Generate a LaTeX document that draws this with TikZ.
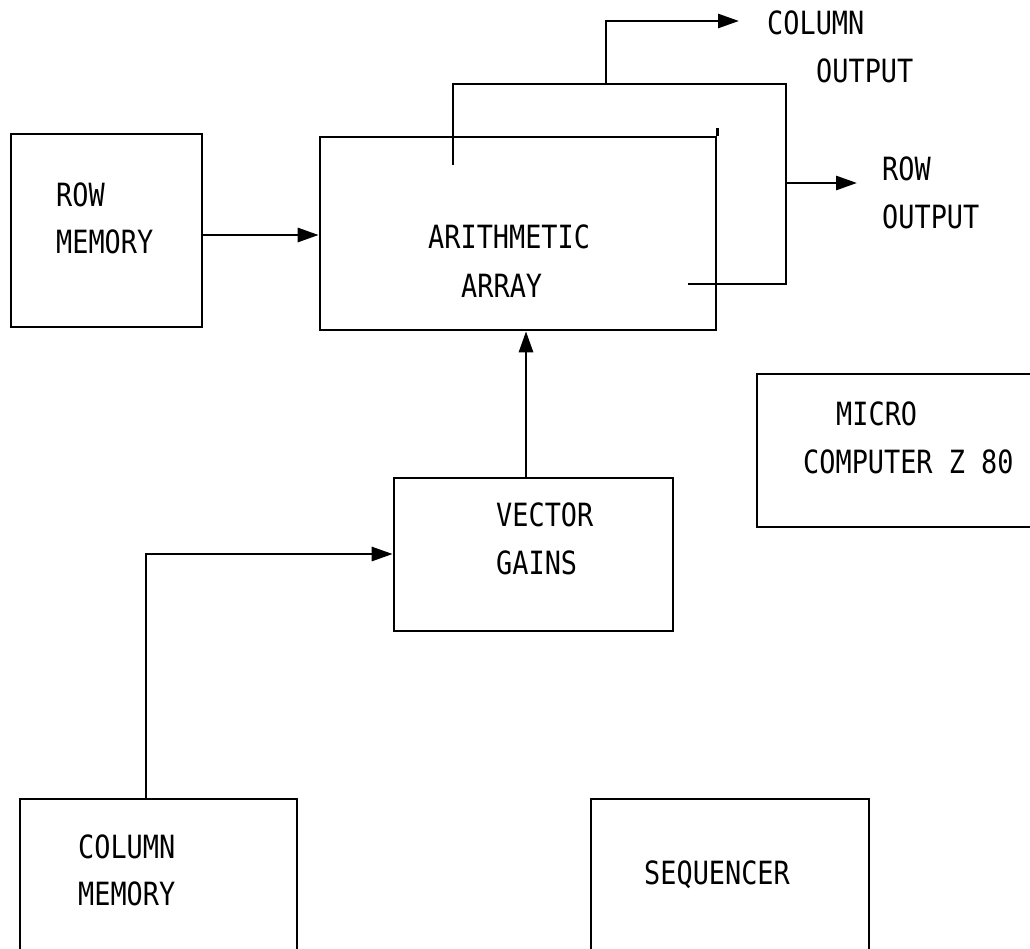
\documentclass[tikz,border=0pt]{standalone}
\usepackage{fontspec}
\setmonofont{DejaVu Sans Mono}[FakeStretch=0.84]
\usetikzlibrary{arrows.meta}
\tikzset{
  blk/.style={draw, line width=2.6pt, inner sep=0pt},
  lbl/.style={anchor=west, inner sep=0pt, font=\ttfamily\fontsize{32}{34}\selectfont, text height=23pt, text depth=0pt},
  wire/.style={line width=2.8pt},
  arr/.style={wire, -{Triangle[length=21pt,width=14pt]}},
}
\begin{document}
\begin{tikzpicture}[x=1pt,y=-1pt]
\clip (0,0) rectangle (1030,949);
\fill[white] (0,0) rectangle (1030,949);
% blocks
\node[blk, minimum width=191pt, minimum height=193pt] (rowmem) at (106.5,230.5) {};
\node[blk, minimum width=396pt, minimum height=193pt] (arith) at (518,233.5) {};
\node[blk, minimum width=290pt, minimum height=153pt] (micro) at (902,450.5) {};
\node[blk, minimum width=279pt, minimum height=153pt] (vec) at (533.5,554.5) {};
\node[blk, minimum width=277pt, minimum height=162pt] (colmem) at (158.5,880) {};
\node[blk, minimum width=278pt, minimum height=162pt] (seq) at (730,880) {};
\draw[line width=2.6pt] (arith.north east) -- ++(0,-8);
% labels
\node[lbl] (t1) at (56,195) {ROW};
\node[lbl] (t2) at (56,242) {MEMORY};
\node[lbl] (t3) at (428,237) {ARITHMETIC};
\node[lbl] (t4) at (461,286) {ARRAY};
\node[lbl] (t5) at (767,23) {COLUMN};
\node[lbl] (t6) at (816,71) {OUTPUT};
\node[lbl] (t7) at (882,169) {ROW};
\node[lbl] (t8) at (882,217) {OUTPUT};
\node[lbl] (t9) at (836,414) {MICRO};
\node[lbl] (t10) at (803,462) {COMPUTER Z 80};
\node[lbl] (t11) at (496,515) {VECTOR};
\node[lbl] (t12) at (496,563) {GAINS};
\node[lbl] (t13) at (78,847) {COLUMN};
\node[lbl] (t14) at (78,894) {MEMORY};
\node[lbl] (t15) at (644,873) {SEQUENCER};
% junction coordinates
\coordinate (ls) at (453,165);
\coordinate (lt) at (606,84);
\coordinate (lr) at (786,183);
\coordinate (le) at (688,284);
\coordinate (co) at (739,21);
\coordinate (ro) at (857,183);
% connectors
\draw[arr] (rowmem.east |- 0,235) -- (arith.west |- 0,235);
\draw[arr] (vec.north -| 526,0) -- (arith.south -| 526,0);
\draw[arr] (colmem.north -| 146,0) |- (vec.west |- 0,554);
\draw[wire] (ls) |- (786,84) |- (le);
\draw[arr] (lt) |- (co);
\draw[arr] (lr) -- (ro);
\end{tikzpicture}
\end{document}
